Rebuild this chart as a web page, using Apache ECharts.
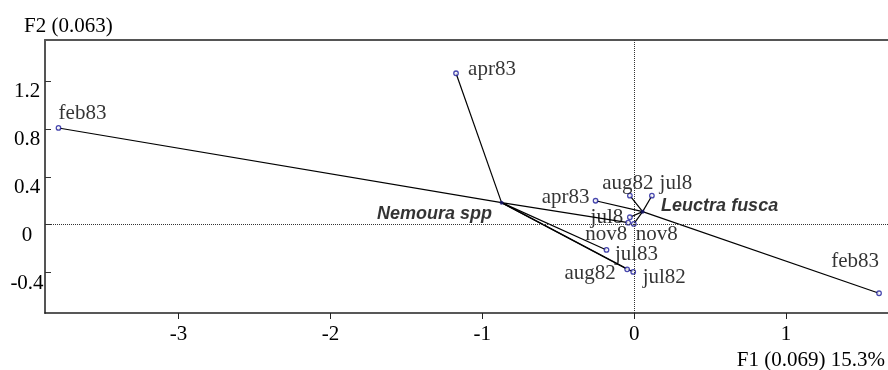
<!DOCTYPE html>
<html>
<head>
<meta charset="utf-8">
<script src="https://cdn.jsdelivr.net/npm/echarts@6/dist/echarts.min.js"></script>
<style>html,body{margin:0;padding:0;background:#fff;}#c{width:888px;height:370px;}</style>
</head>
<body>
<div id="c"></div>
<script>
// ---- data ----
const sampleNames = ['feb83','apr83','apr83','aug82','jul8','jul8','nov8','nov8','jul83','aug82','jul82','feb83'];
const sampleF1 = [-3.791, -1.173, -0.254, -0.028, 0.117, -0.028, -0.039, -0.002, -0.182, -0.046, -0.006, 1.613];
const sampleF2 = [0.808, 1.265, 0.200, 0.242, 0.242, 0.062, 0.017, 0.006, -0.211, -0.373, -0.395, -0.573];
const sampleSpecies = [0, 0, 1, 1, 1, 1, 0, 1, 0, 0, 0, 1];
const speciesNames = ['Nemoura spp', 'Leuctra fusca'];
const speciesF1 = [-0.873, 0.056];
const speciesF2 = [0.184, 0.109];
const xTicks = [-3, -2, -1, 0, 1];
const yTicks = [-0.4, 0, 0.4, 0.8, 1.2];
const xAxisTitle = 'F1 (0.069) 15.3%';
const yAxisTitle = 'F2 (0.063)';

// ---- label placement (style) ----
const sampleLabelOffset = [[24,-14],[36,-4],[-30,-3],[-2,-12],[24,-12],[-23,0],[-22,12],[23,11],[30,5],[-37,4],[31,6],[-24,-32]];
const speciesLabelOffset = [[-67,11],[77,-6]];

const serif = 'Liberation Serif, Times New Roman, serif';
const sans = 'Liberation Sans, Arial, sans-serif';

const chart = echarts.init(document.getElementById('c'), null, {renderer:'canvas'});

const linkData = sampleNames.map((n, i) => ({
  coords: [[speciesF1[sampleSpecies[i]], speciesF2[sampleSpecies[i]]], [sampleF1[i], sampleF2[i]]]
}));

const sampleData = sampleNames.map((n, i) => ({
  value: [sampleF1[i], sampleF2[i]],
  name: n,
  label: {offset: sampleLabelOffset[i]}
}));
const speciesData = speciesNames.map((n, i) => ({
  value: [speciesF1[i], speciesF2[i]],
  name: n,
  label: {offset: speciesLabelOffset[i]}
}));

const option = {
  animation: false,
  backgroundColor: '#fff',
  title: [
    {text: yAxisTitle, left: 19, top: 11, textStyle: {fontFamily: serif, fontSize: 21, fontWeight: 'normal', color: '#000'}},
    {text: xAxisTitle, right: -2, top: 345, textStyle: {fontFamily: serif, fontSize: 21, fontWeight: 'normal', color: '#000'}}
  ],
  grid: {left: 45, right: 0, top: 40, bottom: 57, containLabel: false},
  xAxis: [{
    type: 'value', min: -3.88, max: 1.672,
    axisLine: {show: true, onZero: false, lineStyle: {color: '#222', width: 1.5}},
    axisTick: {show: true, inside: false, length: 6, customValues: xTicks, lineStyle: {color: '#222', width: 1}},
    axisLabel: {customValues: xTicks, margin: 11, fontFamily: serif, fontSize: 21, color: '#000', formatter: v => String(v)},
    splitLine: {show: false}
  }, {
    type: 'value', position: 'top', min: -3.88, max: 1.672,
    axisLine: {show: true, onZero: false, lineStyle: {color: '#555', width: 2}},
    axisTick: {show: false}, axisLabel: {show: false}, splitLine: {show: false}
  }],
  yAxis: {
    type: 'value', min: -0.738, max: 1.543,
    axisLine: {show: true, onZero: false, lineStyle: {color: '#555', width: 2}},
    axisTick: {show: true, inside: true, length: 6, customValues: yTicks, lineStyle: {color: '#333', width: 1}},
    axisLabel: {customValues: yTicks, margin: 18, align: 'center', verticalAlign: 'top', fontFamily: serif, fontSize: 21, color: '#000', formatter: v => String(v)},
    splitLine: {show: false}
  },
  series: [
    {
      type: 'lines', coordinateSystem: 'cartesian2d', xAxisIndex: 0, yAxisIndex: 0,
      data: linkData, silent: true, z: 2,
      lineStyle: {color: '#000', width: 1.2, opacity: 1},
      markLine: {
        silent: true, symbol: ['none', 'none'], label: {show: false},
        lineStyle: {type: [1, 1], color: '#333', width: 1},
        data: [{xAxis: 0}, {yAxis: 0}]
      }
    },
    {
      type: 'scatter', xAxisIndex: 0, yAxisIndex: 0, data: sampleData, z: 3,
      symbol: 'circle', symbolSize: 4.5,
      itemStyle: {color: '#fff', borderColor: '#1a1a9a', borderWidth: 1.3},
      label: {show: true, position: ['50%', '50%'], formatter: p => p.name, fontFamily: serif, fontSize: 21, color: '#000', align: 'center', verticalAlign: 'middle'},
      emphasis: {disabled: true}
    },
    {
      type: 'scatter', xAxisIndex: 0, yAxisIndex: 0, data: speciesData, z: 3,
      symbol: 'circle', symbolSize: 4,
      itemStyle: {color: '#14146e'},
      label: {show: true, position: ['50%', '50%'], formatter: p => p.name, fontFamily: sans, fontSize: 18, fontWeight: 'bold', fontStyle: 'italic', color: '#000', align: 'center', verticalAlign: 'middle'},
      emphasis: {disabled: true}
    }
  ]
};
chart.setOption(option);
</script>
</body>
</html>
